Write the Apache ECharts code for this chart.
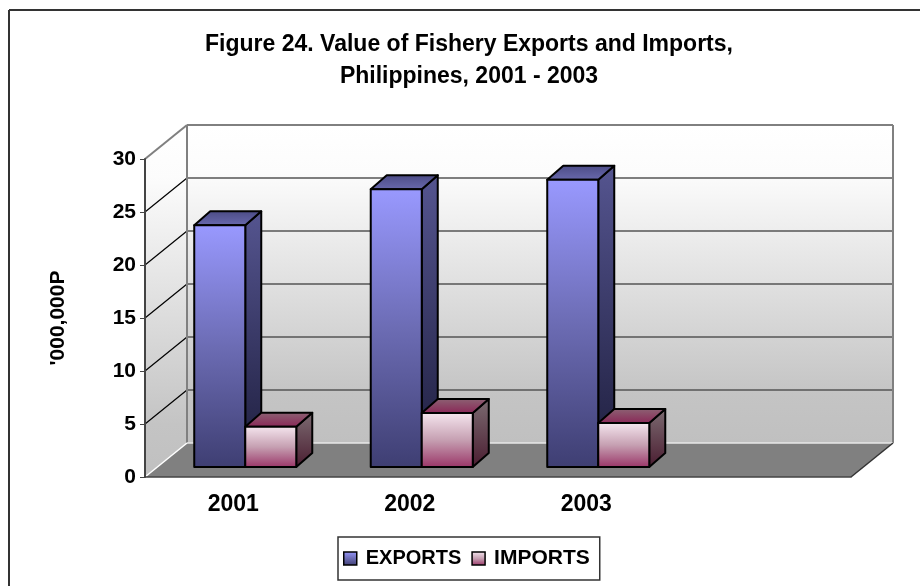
<!DOCTYPE html>
<html>
<head>
<meta charset="utf-8">
<style>html,body{margin:0;padding:0;background:#fff}#c{width:920px;height:586px}</style>
<script src="https://cdn.jsdelivr.net/npm/echarts@6/dist/echarts.min.js"></script>
</head>
<body>
<div id="c"></div>
<script>
var categories = ['2001', '2002', '2003', ''];
var exportsValues = [22.8, 26.2, 27.1];
var importsValues = [3.8, 5.1, 4.15];
var yTicks = [0, 5, 10, 15, 20, 25, 30];
var titleLines = 'Figure 24. Value of Fishery Exports and Imports,\nPhilippines, 2001 - 2003';
var yName = "'000,000P";
var FONT = '"Liberation Sans", Arial, sans-serif';

var WALL_DX = 42, WALL_DY = -34;   // depth of the chart box
var BAR_DX = 12, BAR_DY = -10;     // bars stand a little behind the front edge
var BAR_DEPTH_X = 16, BAR_DEPTH_Y = -14;
var BAR_RATIO = 0.289;

function grad(stops) {
  return { type: 'linear', x: 0, y: 0, x2: 0, y2: 1,
    colorStops: stops.map(function (s) { return { offset: s[0], color: s[1] }; }) };
}
var exportsFront = grad([[0, '#9999ff'], [0.5, '#6c6cb4'], [1, '#3e3e72']]);
var exportsSide = grad([[0, '#555590'], [1, '#1d1d3c']]);
var exportsTop = grad([[0, '#4b4b85'], [1, '#6a6aae']]);
var importsFront = grad([[0, '#f6e8f0'], [0.5, '#c6a0b2'], [1, '#993366']]);
var importsSide = grad([[0, '#7c6c72'], [1, '#4a1c30']]);
var importsTop = grad([[0, '#8c6474'], [1, '#8a2556']]);
var wallFill = grad([[0, '#ffffff'], [0.15, '#fcfcfc'], [0.85, '#c4c4c4'], [1, '#c0c0c0']]);

function poly(points, fill, stroke, width, z2) {
  return { type: 'polygon', z2: z2 || 1, shape: { points: points },
    style: { fill: fill, stroke: stroke || null, lineWidth: width || 0, lineJoin: 'round' } };
}
function line(x1, y1, x2, y2, stroke, width, z2) {
  return { type: 'line', z2: z2 || 2, shape: { x1: x1, y1: y1, x2: x2, y2: y2 },
    style: { stroke: stroke, lineWidth: width } };
}

function renderWalls(params, api) {
  var cs = params.coordSys;
  var left = cs.x, right = cs.x + cs.width;
  var y0 = api.coord([0, yTicks[0]])[1];
  var yTop = api.coord([0, yTicks[yTicks.length - 1]])[1];
  var bl = left + WALL_DX, br = right + WALL_DX;
  var children = [];
  children.push(poly([[left, yTop], [bl, yTop + WALL_DY], [bl, y0 + WALL_DY], [left, y0]], wallFill));
  children.push(poly([[bl, yTop + WALL_DY], [br, yTop + WALL_DY], [br, y0 + WALL_DY], [bl, y0 + WALL_DY]], wallFill));
  children.push(poly([[left, y0], [bl, y0 + WALL_DY], [br, y0 + WALL_DY], [right, y0]], '#808080'));
  yTicks.forEach(function (t) {
    var y = api.coord([0, t])[1];
    if (t !== yTicks[0] && t !== yTicks[yTicks.length - 1]) {
      children.push(line(left, y, bl, y + WALL_DY, '#000', 1.2));
      children.push(line(bl, y + WALL_DY, br, y + WALL_DY, '#555', 1.5));
    }
  });
  children.push(line(left, yTop, bl, yTop + WALL_DY, '#808080', 2, 3));
  children.push(line(bl, yTop + WALL_DY, br, yTop + WALL_DY, '#808080', 2, 3));
  children.push(line(bl, yTop + WALL_DY, bl, y0 + WALL_DY, '#808080', 2, 3));
  children.push(line(br, yTop + WALL_DY, br, y0 + WALL_DY, '#808080', 2, 3));
  children.push(line(left, y0, bl, y0 + WALL_DY, '#ffffff', 1.5, 3));
  children.push(line(bl, y0 + WALL_DY, br, y0 + WALL_DY, '#e8e8e8', 1.5, 3));
  children.push(line(right, y0, br, y0 + WALL_DY, '#333', 1.5, 3));
  return { type: 'group', children: children };
}

function barRenderer(seriesIndex, front, side, top) {
  return function (params, api) {
    var i = api.value(0);
    var band = api.size([1, 0])[0];
    var w = band * BAR_RATIO;
    var c = api.coord([i, api.value(1)]);
    var base = api.coord([i, 0])[1] + BAR_DY;
    var topY = c[1] + BAR_DY;
    var x1 = c[0] + BAR_DX + (seriesIndex === 0 ? -w : 0);
    var x2 = x1 + w;
    var dx = BAR_DEPTH_X, dy = BAR_DEPTH_Y;
    var lw = 2, k = '#000';
    return { type: 'group', children: [
      poly([[x2, topY], [x2 + dx, topY + dy], [x2 + dx, base + dy], [x2, base]], side, k, lw),
      poly([[x1, topY], [x1 + dx, topY + dy], [x2 + dx, topY + dy], [x2, topY]], top, k, lw),
      poly([[x1, topY], [x2, topY], [x2, base], [x1, base]], front, k, lw, 2)
    ] };
  };
}

var chart = echarts.init(document.getElementById('c'), null, { renderer: 'canvas' });
chart.setOption({
  animation: false,
  backgroundColor: '#ffffff',
  textStyle: { fontFamily: FONT },
  title: {
    text: titleLines, left: 464, top: 24, textAlign: 'center',
    textStyle: { fontFamily: FONT, fontWeight: 'bold', fontSize: 23, lineHeight: 32, color: '#000' }
  },
  legend: {
    left: 338, top: 537, selectedMode: false,
    padding: [11, 10, 11, 5], itemGap: 10, itemWidth: 13, itemHeight: 13,
    borderColor: '#333', borderWidth: 1.5, backgroundColor: '#fff',
    textStyle: { fontFamily: FONT, fontWeight: 'bold', fontSize: 20, color: '#000', padding: [0, 0, 0, 4] },
    data: [
      { name: 'EXPORTS', icon: 'rect', itemStyle: { color: exportsFront, borderColor: '#000', borderWidth: 1.5 } },
      { name: 'IMPORTS', icon: 'rect', itemStyle: { color: importsFront, borderColor: '#000', borderWidth: 1.5 },
        textStyle: { fontFamily: FONT, fontWeight: 'bold', fontSize: 21, color: '#000', padding: [0, 0, 0, 4] } }
    ]
  },
  grid: { left: 145, right: 69, top: 159, bottom: 109, containLabel: false },
  xAxis: {
    type: 'category', data: categories, z: 3,
    axisTick: { show: false },
    axisLine: { lineStyle: { color: '#444', width: 1.5 } },
    axisLabel: { margin: 16, color: '#000', fontFamily: FONT, fontWeight: 'bold', fontSize: 23 }
  },
  yAxis: {
    type: 'value', min: 0, max: 30, interval: 5, z: 3,
    name: yName, nameLocation: 'middle', nameGap: 70, nameRotate: 90,
    nameTextStyle: { color: '#000', fontFamily: FONT, fontWeight: 'bold', fontSize: 21, padding: [0, 0, 6, 0] },
    splitLine: { show: false },
    axisLine: { show: true, lineStyle: { color: '#444', width: 2 } },
    axisTick: { show: true, length: 5, lineStyle: { color: '#444', width: 1 } },
    axisLabel: { margin: 9, color: '#000', fontFamily: FONT, fontWeight: 'bold', fontSize: 21 }
  },
  graphic: [
    { type: 'line', silent: true, shape: { x1: 9, y1: 10, x2: 920, y2: 10 }, style: { stroke: '#333', lineWidth: 2 } },
    { type: 'line', silent: true, shape: { x1: 9, y1: 10, x2: 9, y2: 586 }, style: { stroke: '#333', lineWidth: 2 } }
  ],
  series: [
    { type: 'custom', name: 'walls', z: 1, silent: true, clip: false, renderItem: renderWalls,
      data: [[0, 0]], encode: { x: 0, y: 1 } },
    { type: 'custom', name: 'EXPORTS', z: 4, clip: false,
      itemStyle: { color: exportsFront },
      renderItem: barRenderer(0, exportsFront, exportsSide, exportsTop),
      data: exportsValues.map(function (v, i) { return [i, v]; }), encode: { x: 0, y: 1 } },
    { type: 'custom', name: 'IMPORTS', z: 5, clip: false,
      itemStyle: { color: importsFront },
      renderItem: barRenderer(1, importsFront, importsSide, importsTop),
      data: importsValues.map(function (v, i) { return [i, v]; }), encode: { x: 0, y: 1 } }
  ]
});
</script>
</body>
</html>
